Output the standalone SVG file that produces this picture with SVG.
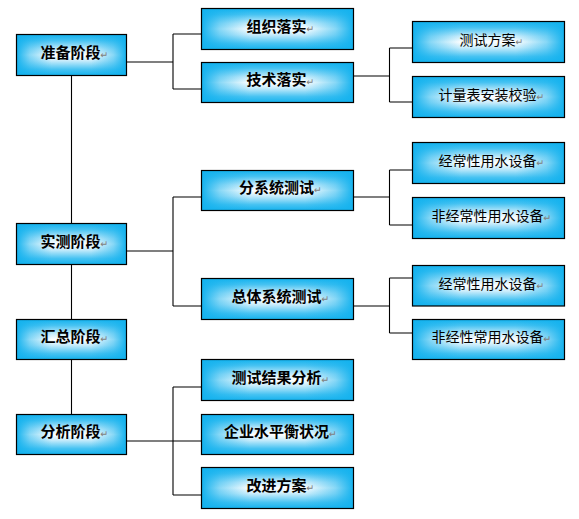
<svg xmlns="http://www.w3.org/2000/svg" width="579" height="519" viewBox="0 0 579 519">
<defs>
<linearGradient id="gv" x1="0" y1="0" x2="0" y2="1">
<stop offset="0" stop-color="#14b2ee"/>
<stop offset="0.15" stop-color="#48c3f2"/>
<stop offset="0.36" stop-color="#c8ecfb"/>
<stop offset="0.5" stop-color="#ffffff"/>
<stop offset="0.64" stop-color="#c8ecfb"/>
<stop offset="0.85" stop-color="#48c3f2"/>
<stop offset="1" stop-color="#14b2ee"/>
</linearGradient>
<linearGradient id="gh" x1="0" y1="0" x2="1" y2="0">
<stop offset="0" stop-color="#14b2ee" stop-opacity="1"/>
<stop offset="0.12" stop-color="#14b2ee" stop-opacity="0.5"/>
<stop offset="0.32" stop-color="#14b2ee" stop-opacity="0"/>
<stop offset="0.68" stop-color="#14b2ee" stop-opacity="0"/>
<stop offset="0.88" stop-color="#14b2ee" stop-opacity="0.5"/>
<stop offset="1" stop-color="#14b2ee" stop-opacity="1"/>
</linearGradient>
</defs>
<style>
.bg{fill:url(#gv);stroke:none}
.ov{fill:url(#gh);stroke:#000;stroke-width:1.2}
.t{font-family:"Noto Sans CJK SC","Liberation Sans",sans-serif;font-size:15px;fill:#000;text-anchor:middle}
.b{font-weight:bold}
.n{font-size:14px}
.m{font-family:"DejaVu Sans",sans-serif;font-size:9.5px;fill:#808080;font-weight:normal}
.c{stroke:#000;stroke-width:1.1;fill:none}
</style>
<rect width="579" height="519" fill="#fff"/>
<g id="connectors">
<path class="c" d="M71.5 75.5V223.5M71.5 264.5V319.5M71.5 359.5V414.5"/>
<path class="c" d="M126.5 62H173M173 34V89M173 34H201.5M173 89H201.5"/>
<path class="c" d="M126.5 251H173M173 197V306M173 197H201.5M173 306H201.5"/>
<path class="c" d="M126.5 441H173M173 387V495M173 387H201.5M173 441H201.5M173 495H201.5"/>
<path class="c" d="M353.5 76H389.5M389.5 48V102M389.5 48H412.5M389.5 102H412.5"/>
<path class="c" d="M353.5 197H389.5M389.5 170V225M389.5 170H412.5M389.5 225H412.5"/>
<path class="c" d="M353.5 306H389.5M389.5 278V333M389.5 278H412.5M389.5 333H412.5"/>
</g>
<g id="n1"><rect class="bg" x="16.5" y="34.5" width="110" height="41"/><rect class="ov" x="16.5" y="34.5" width="110" height="41"/><text class="t b" x="74.5" y="57.5">准备阶段<tspan class="m">↵</tspan></text></g>
<g id="n2"><rect class="bg" x="16.5" y="223.5" width="110" height="41"/><rect class="ov" x="16.5" y="223.5" width="110" height="41"/><text class="t b" x="74.5" y="246.5">实测阶段<tspan class="m">↵</tspan></text></g>
<g id="n3"><rect class="bg" x="16.5" y="319.5" width="110" height="40"/><rect class="ov" x="16.5" y="319.5" width="110" height="40"/><text class="t b" x="74.5" y="342">汇总阶段<tspan class="m">↵</tspan></text></g>
<g id="n4"><rect class="bg" x="16.5" y="414.5" width="110" height="40"/><rect class="ov" x="16.5" y="414.5" width="110" height="40"/><text class="t b" x="74.5" y="437">分析阶段<tspan class="m">↵</tspan></text></g>
<g id="n5"><rect class="bg" x="201.5" y="8.5" width="152" height="41"/><rect class="ov" x="201.5" y="8.5" width="152" height="41"/><text class="t b" x="280.5" y="31.5">组织落实<tspan class="m">↵</tspan></text></g>
<g id="n6"><rect class="bg" x="201.5" y="62.5" width="152" height="40"/><rect class="ov" x="201.5" y="62.5" width="152" height="40"/><text class="t b" x="280.5" y="85">技术落实<tspan class="m">↵</tspan></text></g>
<g id="n7"><rect class="bg" x="201.5" y="170.5" width="152" height="40"/><rect class="ov" x="201.5" y="170.5" width="152" height="40"/><text class="t b" x="280.5" y="193">分系统测试<tspan class="m">↵</tspan></text></g>
<g id="n8"><rect class="bg" x="201.5" y="278.5" width="152" height="41"/><rect class="ov" x="201.5" y="278.5" width="152" height="41"/><text class="t b" x="280.5" y="301.5">总体系统测试<tspan class="m">↵</tspan></text></g>
<g id="n9"><rect class="bg" x="201.5" y="359.5" width="152" height="41"/><rect class="ov" x="201.5" y="359.5" width="152" height="41"/><text class="t b" x="280.5" y="382.5">测试结果分析<tspan class="m">↵</tspan></text></g>
<g id="n10"><rect class="bg" x="201.5" y="414.5" width="152" height="40"/><rect class="ov" x="201.5" y="414.5" width="152" height="40"/><text class="t b" x="280.5" y="437">企业水平衡状况<tspan class="m">↵</tspan></text></g>
<g id="n11"><rect class="bg" x="201.5" y="467.5" width="152" height="41"/><rect class="ov" x="201.5" y="467.5" width="152" height="41"/><text class="t b" x="280.5" y="490.5">改进方案<tspan class="m">↵</tspan></text></g>
<g id="n12"><rect class="bg" x="412.5" y="21.5" width="152" height="41"/><rect class="ov" x="412.5" y="21.5" width="152" height="41"/><text class="t n" x="491.5" y="44.5">测试方案<tspan class="m">↵</tspan></text></g>
<g id="n13"><rect class="bg" x="412.5" y="76.5" width="152" height="41"/><rect class="ov" x="412.5" y="76.5" width="152" height="41"/><text class="t n" x="491.5" y="99.5">计量表安装校验<tspan class="m">↵</tspan></text></g>
<g id="n14"><rect class="bg" x="412.5" y="142.5" width="152" height="41"/><rect class="ov" x="412.5" y="142.5" width="152" height="41"/><text class="t n" x="491.5" y="165.5">经常性用水设备<tspan class="m">↵</tspan></text></g>
<g id="n15"><rect class="bg" x="412.5" y="197.5" width="152" height="41"/><rect class="ov" x="412.5" y="197.5" width="152" height="41"/><text class="t n" x="491.5" y="220.5">非经常性用水设备<tspan class="m">↵</tspan></text></g>
<g id="n16"><rect class="bg" x="412.5" y="265.5" width="152" height="40.5"/><rect class="ov" x="412.5" y="265.5" width="152" height="40.5"/><text class="t n" x="491.5" y="288.5">经常性用水设备<tspan class="m">↵</tspan></text></g>
<g id="n17"><rect class="bg" x="412.5" y="319.5" width="152" height="40"/><rect class="ov" x="412.5" y="319.5" width="152" height="40"/><text class="t n" x="491.5" y="342">非经性常用水设备<tspan class="m">↵</tspan></text></g>
</svg>
